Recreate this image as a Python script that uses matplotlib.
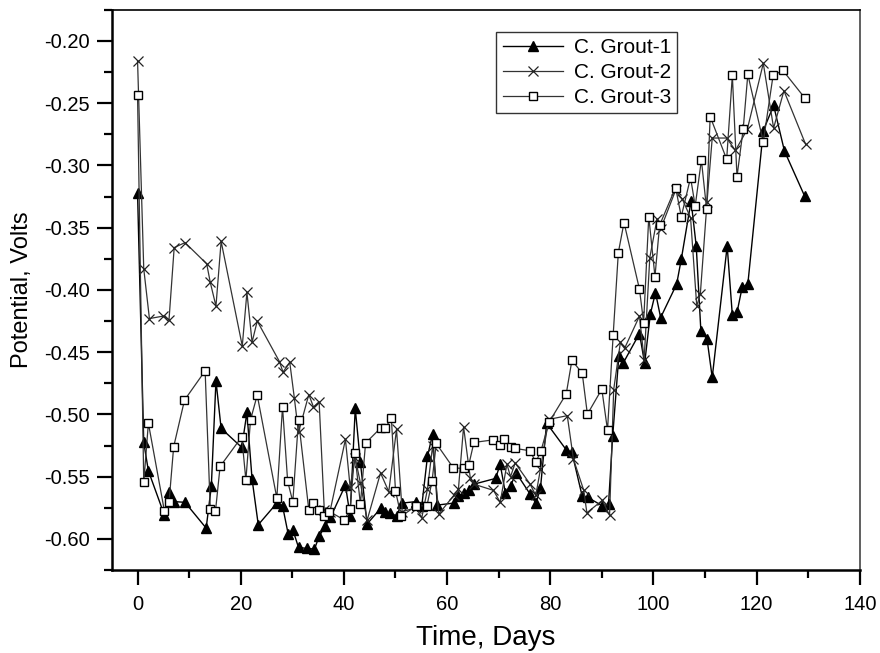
import matplotlib
matplotlib.use("Agg")
import matplotlib.pyplot as plt
from matplotlib.ticker import MultipleLocator, FormatStrFormatter

plt.rcParams['font.family'] = ['Liberation Sans', 'DejaVu Sans']

# C. Grout-1
days_1 = [0, 1.2, 2.1, 5.2, 6.1, 7.1, 9.2, 13.3, 14.3, 15.2, 16.2, 20.2, 21.2, 22.2,
          23.4, 27.0, 28.1, 29.2, 30.1, 31.2, 32.8, 34.3, 35.2, 36.4, 37.4, 40.3, 41.2,
          42.2, 43.2, 44.5, 47.1, 48.0, 49.0, 50.2, 51.3, 54.0, 55.1, 56.2, 57.2, 58.1,
          61.3, 62.2, 63.2, 64.2, 65.2, 69.4, 70.3, 71.3, 72.3, 73.4, 76.1, 77.2, 78.1,
          79.3, 83.1, 84.2, 86.2, 87.3, 90.1, 91.3, 92.1, 93.3, 94.2, 97.3, 98.3, 99.4,
          100.4, 101.4, 104.5, 105.4, 107.3, 108.3, 109.2, 110.4, 111.4, 114.3, 115.3,
          116.2, 117.2, 118.3, 121.3, 123.3, 125.4, 129.3]
volts_1 = [-0.322, -0.5225, -0.5453, -0.5808, -0.5626, -0.570, -0.5706, -0.5913, -0.5578,
           -0.473, -0.5112, -0.5265, -0.4984, -0.552, -0.5886, -0.5712, -0.5734, -0.596,
           -0.5926, -0.6068, -0.6076, -0.6081, -0.5979, -0.5894, -0.5827, -0.5567, -0.5814,
           -0.4952, -0.5385, -0.588, -0.5755, -0.5787, -0.5795, -0.5814, -0.5712, -0.570,
           -0.5734, -0.5337, -0.5158, -0.5728, -0.5712, -0.5653, -0.5632, -0.5605, -0.556,
           -0.5514, -0.540, -0.5632, -0.5573, -0.547, -0.564, -0.5712, -0.5594, -0.507,
           -0.5284, -0.5305, -0.5658, -0.5667, -0.5734, -0.572, -0.5175, -0.453, -0.4583,
           -0.435, -0.459, -0.4195, -0.4021, -0.4222, -0.3954, -0.3754, -0.3286, -0.3647,
           -0.4329, -0.4396, -0.4703, -0.3647, -0.4203, -0.4181, -0.398, -0.3954, -0.272,
           -0.2518, -0.2884, -0.3245]

# C. Grout-2
days_2 = [0, 1.2, 2.3, 5.0, 6.1, 7.1, 9.2, 13.4, 14.1, 15.2, 16.2, 20.3, 21.2, 22.2,
          23.2, 27.5, 28.2, 29.5, 30.4, 31.2, 33.2, 34.1, 35.2, 36.2, 37.3, 40.3, 41.2,
          42.2, 43.2, 44.5, 47.1, 48.7, 50.2, 51.3, 54.0, 55.1, 56.2, 57.2, 58.4, 61.3,
          62.2, 63.2, 64.5, 65.2, 69.0, 70.3, 71.6, 72.3, 73.2, 76.1, 77.2, 78.1, 79.7,
          83.3, 84.5, 86.5, 87.1, 90.1, 91.5, 92.3, 93.6, 94.4, 97.3, 98.2, 99.3, 100.7,
          101.4, 104.3, 105.6, 107.2, 108.4, 109.1, 110.4, 111.4, 114.2, 115.9, 118.2,
          121.3, 123.3, 125.3, 129.5]
volts_2 = [-0.216, -0.383, -0.423, -0.421, -0.424, -0.366, -0.362, -0.379, -0.394, -0.413,
           -0.361, -0.445, -0.402, -0.442, -0.425, -0.4575, -0.466, -0.458, -0.487, -0.5145,
           -0.484, -0.494, -0.490, -0.577, -0.578, -0.520, -0.558, -0.535, -0.555, -0.585,
           -0.547, -0.562, -0.512, -0.578, -0.575, -0.583, -0.560, -0.525, -0.580, -0.565,
           -0.560, -0.510, -0.551, -0.556, -0.561, -0.5706, -0.540, -0.550, -0.539, -0.556,
           -0.565, -0.544, -0.504, -0.501, -0.536, -0.561, -0.579, -0.569, -0.581, -0.480,
           -0.442, -0.447, -0.421, -0.456, -0.374, -0.343, -0.351, -0.320, -0.327, -0.342,
           -0.413, -0.403, -0.329, -0.278, -0.278, -0.288, -0.271, -0.218, -0.270, -0.240,
           -0.283]

# C. Grout-3
days_3 = [0, 1.2, 2.1, 5.2, 6.1, 7.0, 9.1, 13.1, 14.1, 15.1, 16.0, 20.2, 21.0, 21.9,
          23.2, 27.0, 28.1, 29.1, 30.1, 31.2, 33.2, 34.1, 35.1, 36.1, 37.2, 40.1, 41.2,
          42.1, 43.2, 44.2, 47.1, 48.0, 49.2, 50.0, 51.1, 54.0, 56.1, 57.1, 57.9, 61.2,
          63.2, 64.2, 65.2, 69.0, 70.2, 71.1, 72.3, 73.2, 76.1, 77.2, 78.2, 79.8, 83.1,
          84.2, 86.2, 87.2, 90.0, 91.1, 92.2, 93.2, 94.3, 97.3, 98.1, 99.1, 100.3, 101.2,
          104.3, 105.4, 107.2, 108.1, 109.3, 110.3, 111.0, 114.2, 115.3, 116.2, 117.4,
          118.3, 121.3, 123.2, 125.1, 129.3]
volts_3 = [-0.2437, -0.5546, -0.507, -0.5774, -0.5706, -0.526, -0.4885, -0.465, -0.576,
           -0.5779, -0.5418, -0.518, -0.5527, -0.5043, -0.4845, -0.5672, -0.4939, -0.5538,
           -0.5701, -0.5043, -0.5768, -0.5712, -0.5768, -0.5814, -0.578, -0.5848, -0.576,
           -0.531, -0.572, -0.523, -0.511, -0.511, -0.503, -0.5613, -0.5819, -0.5734,
           -0.5734, -0.5533, -0.5233, -0.5429, -0.5434, -0.5407, -0.5225, -0.5204, -0.5247,
           -0.520, -0.5265, -0.5273, -0.5292, -0.5385, -0.5292, -0.506, -0.4835, -0.4565,
           -0.4669, -0.4998, -0.4797, -0.5126, -0.4361, -0.370, -0.3459, -0.3995, -0.4262,
           -0.3411, -0.3893, -0.348, -0.3178, -0.3411, -0.3098, -0.3326, -0.2957, -0.3347,
           -0.2608, -0.2950, -0.2277, -0.309, -0.271, -0.2269, -0.281, -0.2277, -0.2237,
           -0.2456]

labels = ["C. Grout-1", "C. Grout-2", "C. Grout-3"]

fig = plt.figure(figsize=(8.8, 6.53), dpi=100)
ax = fig.add_axes([0.127, 0.127, 0.850, 0.858])

ax.plot(days_1, volts_1, color='black', lw=1.0, marker='^', ms=7,
        mfc='black', mec='black', label=labels[0])
ax.plot(days_2, volts_2, color='#333333', lw=0.9, marker='x', ms=7,
        mew=0.9, mec='#222222', label=labels[1])
ax.plot(days_3, volts_3, color='#333333', lw=0.9, marker='s', ms=6,
        mfc='white', mec='black', mew=1.0, label=labels[2])

ax.set_xlim(-5, 140)
ax.set_ylim(-0.625, -0.175)
ax.xaxis.set_major_locator(MultipleLocator(20))
ax.xaxis.set_minor_locator(MultipleLocator(10))
ax.yaxis.set_major_locator(MultipleLocator(0.05))
ax.yaxis.set_minor_locator(MultipleLocator(0.025))
ax.yaxis.set_major_formatter(FormatStrFormatter('%.2f'))

ax.tick_params(which='major', direction='out', length=11, width=1.6,
               labelsize=14.5, colors='black')
ax.tick_params(axis='x', which='major', pad=7)
ax.tick_params(axis='y', which='major', pad=5)
ax.tick_params(which='minor', direction='out', length=6, width=1.6)
ax.tick_params(top=False, right=False, which='both')

ax.spines['left'].set_linewidth(1.8)
ax.spines['bottom'].set_linewidth(1.8)
ax.spines['top'].set_linewidth(1.2)
ax.spines['right'].set_linewidth(1.2)
ax.spines['right'].set_color('#444444')

ax.set_xlabel("Time, Days", fontsize=20, labelpad=8)
ax.set_ylabel("Potential, Volts", fontsize=17, labelpad=8)

leg = ax.legend(loc='upper right', bbox_to_anchor=(677 / 880, 1 - 32 / 653),
                bbox_transform=fig.transFigure, borderaxespad=0, fontsize=15,
                frameon=True, fancybox=False, edgecolor='black', handlelength=2.9,
                borderpad=0.3, labelspacing=0.28, handletextpad=0.5)
leg.get_frame().set_linewidth(1.0)

fig.savefig("out.png", dpi=100)
